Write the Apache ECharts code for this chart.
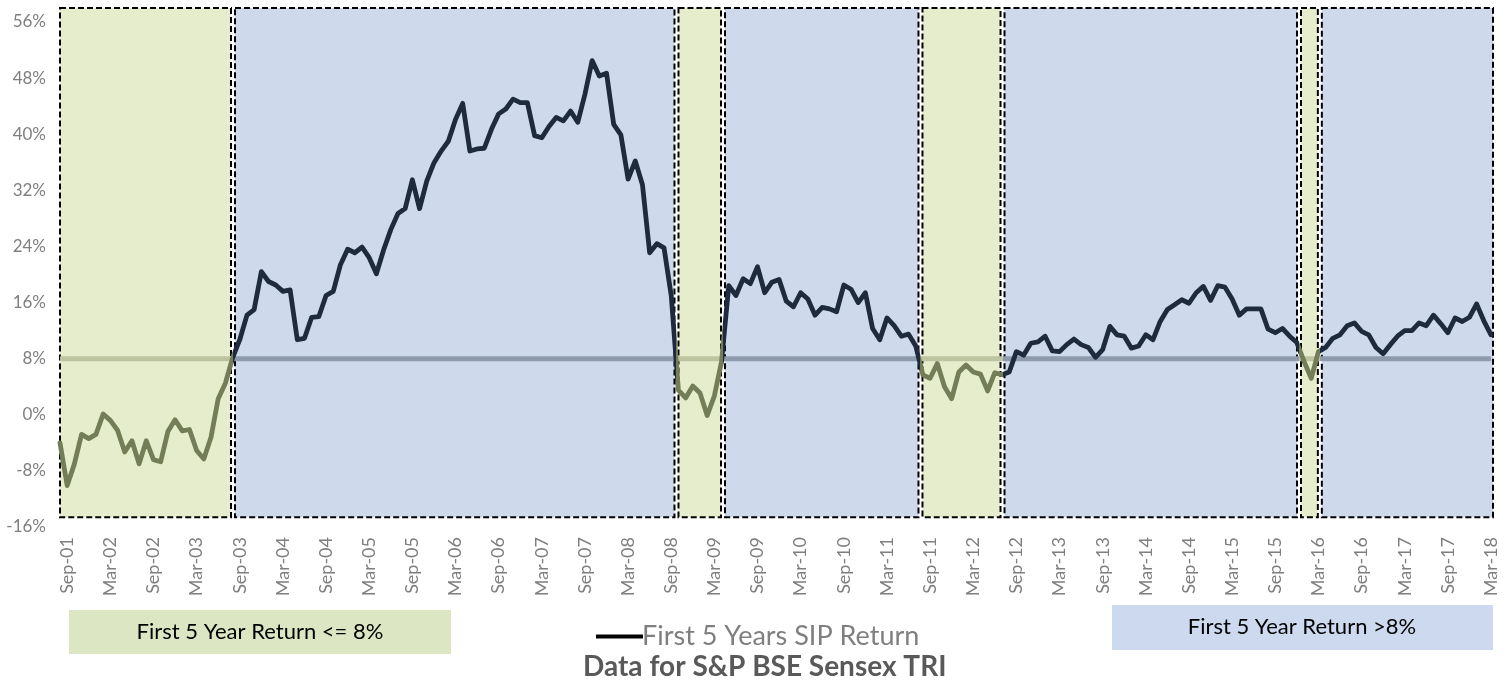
<!DOCTYPE html>
<html>
<head>
<meta charset="utf-8">
<script src="https://cdn.jsdelivr.net/npm/echarts@6/dist/echarts.min.js"></script>
<style>
  html, body { margin: 0; padding: 0; background: #ffffff; }
  #chart { width: 1510px; height: 680px; }
</style>
</head>
<body>
<div id="chart"></div>
<script>
// ---- Data ----
const startYear = 2001, startMonth = 7; // Aug-01 is the first observation
const sipReturn = [
  -4.0, -10.1, -7.0, -2.8, -3.4, -2.8, 0.1, -0.8, -2.2, -5.3,
  -3.7, -7.0, -3.7, -6.4, -6.7, -2.4, -0.7, -2.3, -2.1, -5.1,
  -6.3, -3.2, 2.3, 4.5, 8.1, 10.7, 14.2, 15.0, 20.4, 19.0,
  18.5, 17.6, 17.8, 10.7, 10.9, 13.9, 14.0, 17.0, 17.6, 21.4,
  23.6, 23.1, 23.9, 22.4, 20.1, 23.5, 26.4, 28.7, 29.4, 33.5,
  29.4, 33.3, 35.9, 37.6, 39.0, 42.1, 44.4, 37.6, 37.9, 38.0,
  40.7, 42.9, 43.6, 45.0, 44.5, 44.5, 39.8, 39.5, 41.1, 42.4,
  41.9, 43.3, 41.7, 45.7, 50.5, 48.3, 48.7, 41.4, 39.9, 33.6,
  36.2, 32.8, 23.1, 24.4, 23.8, 17.0, 3.5, 2.4, 4.1, 3.1,
  -0.1, 2.7, 7.6, 18.4, 17.0, 19.4, 18.7, 21.1, 17.4, 18.9,
  19.3, 16.2, 15.4, 17.4, 16.5, 14.2, 15.3, 15.1, 14.7, 18.5,
  17.9, 16.0, 17.4, 12.3, 10.7, 13.8, 12.7, 11.2, 11.5, 9.8,
  5.7, 5.2, 7.3, 4.0, 2.3, 6.1, 7.1, 6.1, 5.8, 3.4,
  6.0, 5.7, 6.1, 9.0, 8.5, 10.2, 10.4, 11.2, 9.1, 9.0,
  10.0, 10.8, 10.0, 9.6, 8.2, 9.3, 12.6, 11.4, 11.2, 9.5,
  9.8, 11.4, 10.7, 13.3, 15.0, 15.7, 16.4, 15.9, 17.4, 18.3,
  16.3, 18.4, 18.2, 16.5, 14.2, 15.1, 15.1, 15.1, 12.2, 11.7,
  12.3, 11.2, 10.3, 7.6, 5.2, 9.0, 9.6, 10.9, 11.4, 12.7,
  13.1, 11.9, 11.4, 9.6, 8.7, 10.0, 11.2, 12.0, 12.0, 13.1,
  12.7, 14.2, 13.0, 11.7, 13.8, 13.3, 13.9, 15.8, 13.4, 11.4
];
const tickLabels = [
  'Sep-01','Mar-02','Sep-02','Mar-03','Sep-03','Mar-04','Sep-04','Mar-05','Sep-05','Mar-06',
  'Sep-06','Mar-07','Sep-07','Mar-08','Sep-08','Mar-09','Sep-09','Mar-10','Sep-10','Mar-11',
  'Sep-11','Mar-12','Sep-12','Mar-13','Sep-13','Mar-14','Sep-14','Mar-15','Sep-15','Mar-16',
  'Sep-16','Mar-17','Sep-17','Mar-18'
];
// Period boundaries (in months from Aug-01) where first-5-year return crosses 8%
const regionBreaks = [0, 24.06, 85.73, 92.2, 119.66, 131.07, 172.3, 175.2, 199];
const regionTypes  = ['low', 'high', 'low', 'high', 'low', 'high', 'low', 'high'];
const threshold = 8;
const yTicks = { min: -16, max: 56, step: 8 };

// ---- Derived ----
const monNames = ['Jan','Feb','Mar','Apr','May','Jun','Jul','Aug','Sep','Oct','Nov','Dec'];
const months = sipReturn.map((_, i) => {
  const m = startMonth + i;
  const y = startYear + Math.floor(m / 12);
  return monNames[m % 12] + '-' + String(y % 100).padStart(2, '0');
});
const tickIdx = tickLabels.map(t => months.indexOf(t));
const lastIdx = sipReturn.length - 1;
const lineData = sipReturn.map((v, i) => [i, v]);
const regions = regionTypes.map((t, k) => [regionBreaks[k], regionBreaks[k + 1], t === 'low' ? 0 : 1]);

const C = {
  lowBg: '#E6EDCD', highBg: '#CED9EC',
  lowLine: '#737D57', highLine: '#1E2B3E',
  lowRef: '#BCC4A0', highRef: '#8E9BAF'
};
const pieceList = (lowC, highC) => regions.map((r, k) => {
  const p = { color: r[2] === 0 ? lowC : highC };
  if (k > 0) p.gte = r[0];
  if (k < regions.length - 1) p.lt = r[1];
  return p;
});

const FONT = 'Lato';
const chart = echarts.init(document.getElementById('chart'), null, { renderer: 'canvas' });
chart.setOption({
  animation: false,
  backgroundColor: '#ffffff',
  textStyle: { fontFamily: FONT },
  grid: { left: 60, right: 19, top: 22, bottom: 153, containLabel: false },
  title: {
    text: 'Data for S&P BSE Sensex TRI',
    left: 578, top: 648,
    textStyle: { fontFamily: FONT, fontSize: 28, fontWeight: 'bold', color: '#595959' }
  },
  legend: {
    data: [{ name: 'First 5 Years SIP Return', icon: 'rect', itemStyle: { color: '#000000' } }],
    left: 591, top: 618,
    itemWidth: 47, itemHeight: 4,
    textStyle: { fontFamily: FONT, fontSize: 27, color: '#7F7F7F', padding: [0, 0, 0, -6] }
  },
  xAxis: {
    type: 'value', min: 0, max: lastIdx,
    axisLine: { show: false }, axisTick: { show: false }, splitLine: { show: false },
    axisLabel: {
      customValues: tickIdx,
      rotate: 90, margin: 10,
      color: '#7F7F7F', fontFamily: FONT, fontSize: 18,
      formatter: v => months[Math.round(v)]
    }
  },
  yAxis: {
    type: 'value', min: yTicks.min, max: yTicks.max, interval: yTicks.step,
    axisLine: { show: false }, axisTick: { show: false }, splitLine: { show: false },
    axisLabel: { formatter: '{value}%', color: '#7F7F7F', fontFamily: FONT, fontSize: 17, margin: 14 }
  },
  visualMap: [
    { type: 'piecewise', show: false, dimension: 0, seriesIndex: 1, pieces: pieceList(C.lowLine, C.highLine) },
    { type: 'piecewise', show: false, dimension: 0, seriesIndex: 2, pieces: pieceList(C.lowRef, C.highRef) }
  ],
  series: [
    {
      type: 'custom', name: 'periods', silent: true, clip: false, z: 1,
      data: regions,
      encode: { x: [0, 1] },
      renderItem: function (params, api) {
        const s = api.value(0), e = api.value(1), t = api.value(2);
        const n = regions.length;
        const p1 = api.coord([s, 58]);
        const p2 = api.coord([e, -14.6]);
        const x1 = p1[0] + (params.dataIndex === 0 ? 0 : 2);
        const x2 = p2[0] + (params.dataIndex === n - 1 ? 2 : -2);
        return {
          type: 'rect',
          shape: { x: x1, y: p1[1], width: x2 - x1, height: p2[1] - p1[1] },
          style: { fill: t === 0 ? C.lowBg : C.highBg, stroke: '#000000', lineWidth: 2, lineDash: [6, 3] }
        };
      }
    },
    {
      type: 'line', name: 'First 5 Years SIP Return', data: lineData,
      symbol: 'none', z: 5,
      lineStyle: { width: 4.8, join: 'round', cap: 'round' }
    },
    {
      type: 'line', name: 'threshold', data: [[0, threshold], [lastIdx, threshold]],
      symbol: 'none', z: 3, silent: true,
      lineStyle: { width: 5 }
    }
  ],
  graphic: [
    {
      type: 'group', left: 69, top: 610,
      children: [
        { type: 'rect', shape: { x: 0, y: 0, width: 382, height: 44 }, style: { fill: '#DCE6C3' } },
        { type: 'text', x: 191, y: 22, style: { text: 'First 5 Year Return <= 8%', fill: '#000000', font: '22px ' + FONT, textAlign: 'center', textVerticalAlign: 'middle' } }
      ]
    },
    {
      type: 'group', left: 1112, top: 605,
      children: [
        { type: 'rect', shape: { x: 0, y: 0, width: 381, height: 45 }, style: { fill: '#CCD9EE' } },
        { type: 'text', x: 190, y: 22, style: { text: 'First 5 Year Return >8%', fill: '#000000', font: '22px ' + FONT, textAlign: 'center', textVerticalAlign: 'middle' } }
      ]
    }
  ]
});
</script>
</body>
</html>
